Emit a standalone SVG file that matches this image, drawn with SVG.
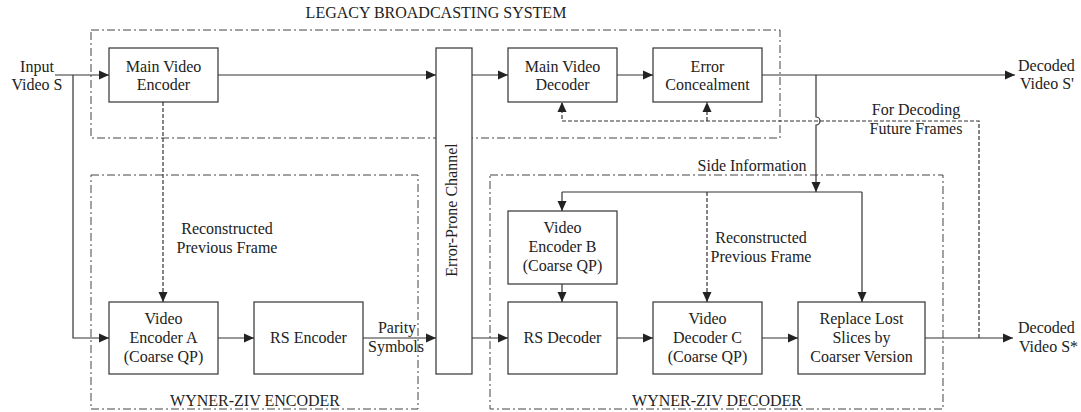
<svg xmlns="http://www.w3.org/2000/svg" width="1081" height="412" viewBox="0 0 1081 412" font-family="'Liberation Serif', 'Times New Roman', 'DejaVu Serif', serif">
<style>
text{font-family:'Liberation Serif','Times New Roman','DejaVu Serif',serif;font-size:16px;fill:#222;}
.c{text-anchor:middle;}
.box{fill:#fff;stroke:#333;stroke-width:1.2;}
.grp{fill:none;stroke:#444;stroke-width:1;stroke-dasharray:8 3 2 3;}
.ln{fill:none;stroke:#333;stroke-width:1.2;}
.ar{marker-end:url(#ah);}
.dsh{stroke-dasharray:4 2;}
</style>
<defs>
<marker id="ah" markerUnits="userSpaceOnUse" markerWidth="11" markerHeight="10" refX="10" refY="5" orient="auto">
<path d="M0,0.5 L10,5 L0,9.5 z" fill="#222"/>
</marker>
</defs>
<rect width="1081" height="412" fill="#fff"/>

<g id="groups">
<rect class="grp" x="91" y="30" width="689" height="108"/>
<text class="c" x="436" y="18">LEGACY BROADCASTING SYSTEM</text>
<rect class="grp" x="91" y="175" width="327" height="234"/>
<text class="c" x="255" y="406">WYNER-ZIV ENCODER</text>
<rect class="grp" x="490" y="175" width="453" height="234"/>
<text class="c" x="717" y="406">WYNER-ZIV DECODER</text>
</g>

<g id="connectors">
<path class="ln ar" d="M55,75 H109"/>
<path class="ln ar" d="M73,75 V338 H109"/>
<path class="ln ar" d="M218,75 H436"/>
<path class="ln ar" d="M472,75 H508"/>
<path class="ln ar" d="M617,75 H653"/>
<path class="ln ar" d="M762,75 H1015"/>
<path class="ln ar dsh" d="M163,102 V302"/>
<path class="ln ar" d="M218,338 H254"/>
<path class="ln ar" d="M363,338 H436"/>
<path class="ln ar" d="M472,338 H508"/>
<path class="ln ar" d="M617,338 H653"/>
<path class="ln ar" d="M762,338 H798"/>
<path class="ln ar" d="M925,338 H1013"/>
<path class="ln ar dsh" d="M979,338 V121 H562 V102"/>
<path class="ln ar dsh" d="M707,121 V102"/>
<path class="ln ar" d="M816,75 V117 A4,4 0 0 1 816,125 V192"/>
<path class="ln" d="M562,192 H862"/>
<path class="ln ar" d="M562,192 V211"/>
<path class="ln ar" d="M862,192 V302"/>
<path class="ln ar" d="M562,284 V302"/>
<path class="ln ar dsh" d="M707,192 V302"/>
</g>

<g id="labels">
<text class="c" x="37" y="72">Input</text>
<text class="c" x="37" y="90">Video S</text>
<text x="1018" y="71">Decoded</text>
<text x="1020" y="89">Video S'</text>
<text class="c" x="916" y="115">For Decoding</text>
<text class="c" x="916" y="134">Future Frames</text>
<text class="c" x="752" y="171">Side Information</text>
<text class="c" x="227" y="234">Reconstructed</text>
<text class="c" x="227" y="253">Previous Frame</text>
<text class="c" x="761" y="243">Reconstructed</text>
<text class="c" x="761" y="262">Previous Frame</text>
<text class="c" x="397" y="333">Parity</text>
<text class="c" x="396" y="352">Symbols</text>
<text x="1018" y="333">Decoded</text>
<text x="1019" y="352">Video S*</text>
</g>

<g id="main-video-encoder">
<rect class="box" x="109" y="48" width="109" height="54"/>
<text class="c" x="163.5" y="72">Main Video</text>
<text class="c" x="163.5" y="90">Encoder</text>
</g>
<g id="error-prone-channel">
<rect class="box" x="436" y="48" width="36" height="326"/>
<text class="c" transform="translate(457,210) rotate(-90)">Error-Prone Channel</text>
</g>
<g id="main-video-decoder">
<rect class="box" x="508" y="48" width="109" height="54"/>
<text class="c" x="562.5" y="72">Main Video</text>
<text class="c" x="562.5" y="90">Decoder</text>
</g>
<g id="error-concealment">
<rect class="box" x="653" y="48" width="109" height="54"/>
<text class="c" x="707.5" y="72">Error</text>
<text class="c" x="707.5" y="90">Concealment</text>
</g>
<g id="video-encoder-a">
<rect class="box" x="109" y="302" width="109" height="72"/>
<text class="c" x="163.5" y="324">Video</text>
<text class="c" x="163.5" y="343">Encoder A</text>
<text class="c" x="163.5" y="362">(Coarse QP)</text>
</g>
<g id="rs-encoder">
<rect class="box" x="254" y="302" width="109" height="72"/>
<text class="c" x="308.5" y="343">RS Encoder</text>
</g>
<g id="video-encoder-b">
<rect class="box" x="508" y="211" width="109" height="73"/>
<text class="c" x="562.5" y="233">Video</text>
<text class="c" x="562.5" y="252">Encoder B</text>
<text class="c" x="562.5" y="271">(Coarse QP)</text>
</g>
<g id="rs-decoder">
<rect class="box" x="508" y="302" width="109" height="72"/>
<text class="c" x="562.5" y="343">RS Decoder</text>
</g>
<g id="video-decoder-c">
<rect class="box" x="653" y="302" width="109" height="72"/>
<text class="c" x="707.5" y="324">Video</text>
<text class="c" x="707.5" y="343">Decoder C</text>
<text class="c" x="707.5" y="362">(Coarse QP)</text>
</g>
<g id="replace-lost-slices">
<rect class="box" x="798" y="302" width="127" height="72"/>
<text class="c" x="861.5" y="324">Replace Lost</text>
<text class="c" x="861.5" y="343">Slices by</text>
<text class="c" x="861.5" y="362">Coarser Version</text>
</g>
</svg>
